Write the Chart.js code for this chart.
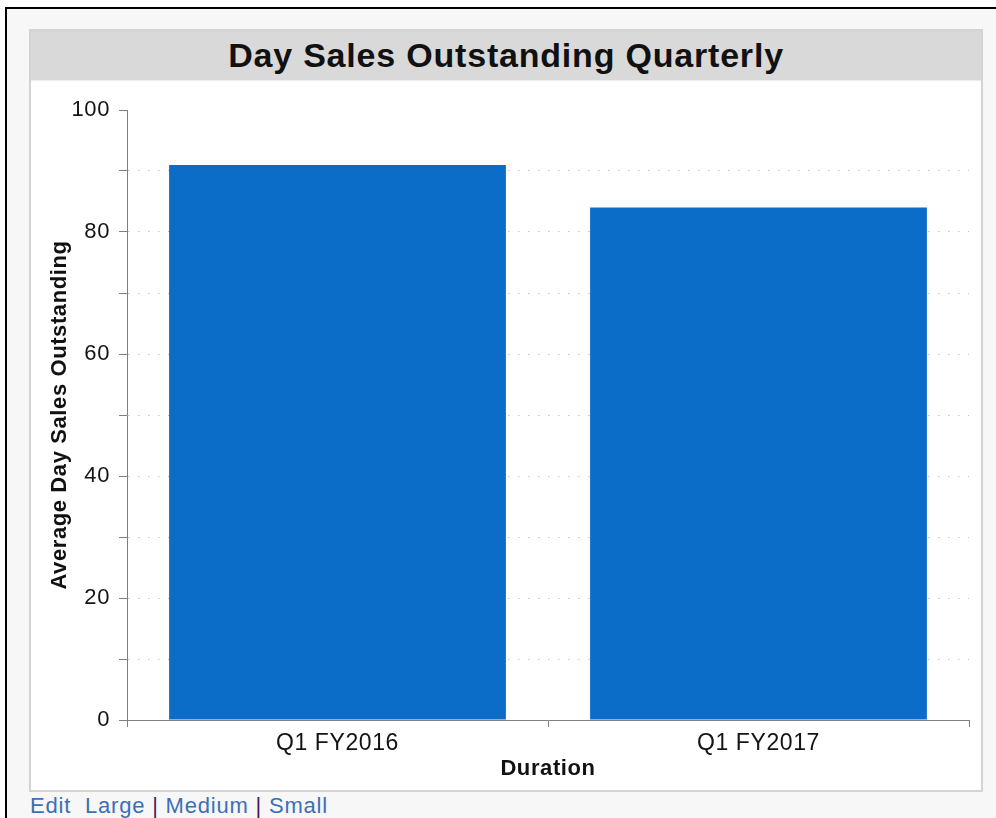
<!DOCTYPE html>
<html lang="en">
<head>
    <meta charset="UTF-8">
    <title>Day Sales Outstanding Quarterly</title>
    <script src="https://cdn.jsdelivr.net/npm/chart.js"></script>
    <style>
        body {
            margin: 0;
            background: #fff;
            font-family: 'Liberation Sans', Arial, Helvetica, sans-serif;
        }

        /* outer frame of the report page */
        .frame {
            position: absolute;
            left: 5px;
            top: 7px;
            right: 0;
            bottom: 0;
            border-top: 2px solid #000;
            border-left: 2px solid #000;
            background: #f7f7f7;
        }

        .panel {
            position: absolute;
            left: 29px;
            top: 29px;
            width: 950px;
            height: 759px;
            border: 2px solid #d3d3d3;
            background: #fff;
        }

        .panel-title {
            height: 49px;
            line-height: 49px;
            background: #d9d9d9;
            border-bottom: 1px solid #ececec;
            text-align: center;
            font-size: 34px;
            font-weight: bold;
            letter-spacing: 0.8px;
            color: #111;
        }

        .chart-box {
            position: absolute;
            left: 0;
            top: 50px;
            width: 950px;
            height: 709px;
        }

        .links {
            position: absolute;
            left: 30px;
            top: 794px;
            font-size: 22px;
            line-height: 24px;
            letter-spacing: 0.8px;
            color: #4e1a63;
            white-space: nowrap;
        }

        .links a {
            color: #3b6fb6;
            text-decoration: none;
        }
    </style>
</head>
<body>
    <div class="frame"></div>

    <div class="panel">
        <div class="panel-title">Day Sales Outstanding Quarterly</div>
        <div class="chart-box">
            <canvas id="dsoChart"></canvas>
        </div>
    </div>

    <div class="links"><a href="#">Edit</a>&nbsp; <a href="#">Large</a> | <a href="#">Medium</a> | <a href="#">Small</a></div>

    <script>
        const categories = ['Q1 FY2016', 'Q1 FY2017'];
        const dsoValues = [91, 84];
        const yMin = 0;
        const yMax = 100;
        const yStep = 10;      // tick marks and dotted grid every 10
        const yLabelStep = 20; // only every other tick gets a label

        Chart.defaults.font.family = "'Liberation Sans', Arial, Helvetica, sans-serif";
        Chart.defaults.color = '#141414';

        // the report renderer spaces its letters a bit wider than the browser does
        const letterSpacing = {
            id: 'letterSpacing',
            beforeLayout(chart) { chart.ctx.letterSpacing = '0.6px'; },
            beforeDraw(chart) { chart.ctx.letterSpacing = '0.6px'; }
        };

        const axisGray = '#808080';

        new Chart(document.getElementById('dsoChart'), {
            type: 'bar',
            data: {
                labels: categories,
                datasets: [{
                    label: 'Average Day Sales Outstanding',
                    data: dsoValues,
                    backgroundColor: '#0c6dc9',
                    borderWidth: 0,
                    barPercentage: 0.8,
                    categoryPercentage: 1.0
                }]
            },
            options: {
                responsive: true,
                maintainAspectRatio: false,
                animation: false,
                layout: {
                    padding: { top: 29, right: 12, bottom: 0, left: 0 }
                },
                plugins: {
                    legend: { display: false },
                    tooltip: { enabled: false }
                },
                scales: {
                    x: {
                        grid: {
                            offset: true,
                            drawOnChartArea: false,
                            tickLength: 7,
                            tickColor: axisGray
                        },
                        border: { color: axisGray, width: 1 },
                        ticks: {
                            padding: 3,
                            color: '#141414',
                            font: { size: 23 }
                        },
                        title: {
                            display: true,
                            text: 'Duration',
                            color: '#111',
                            font: { size: 22, weight: 'bold' },
                            padding: { top: 0, bottom: 8 }
                        },
                        afterFit(scale) { scale.height = 70; }
                    },
                    y: {
                        min: yMin,
                        max: yMax,
                        ticks: {
                            stepSize: yStep,
                            padding: 9,
                            color: '#141414',
                            font: { size: 22 },
                            callback: v => (v % yLabelStep === 0 ? v : '')
                        },
                        grid: {
                            color: ctx => (ctx.tick && (ctx.tick.value === yMin || ctx.tick.value === yMax))
                                ? 'rgba(0,0,0,0)' : '#c2c2c2',
                            lineWidth: 1,
                            tickLength: 8,
                            tickColor: axisGray,
                            tickBorderDash: []
                        },
                        border: {
                            color: axisGray,
                            width: 1,
                            dash: [1.5, 8.5]
                        },
                        title: {
                            display: true,
                            text: 'Average Day Sales Outstanding',
                            color: '#111',
                            font: { size: 22, weight: 'bold' },
                            padding: { top: 16, bottom: 0 }
                        },
                        afterFit(scale) { scale.width = 96; }
                    }
                }
            },
            plugins: [letterSpacing]
        });
    </script>
</body>
</html>
